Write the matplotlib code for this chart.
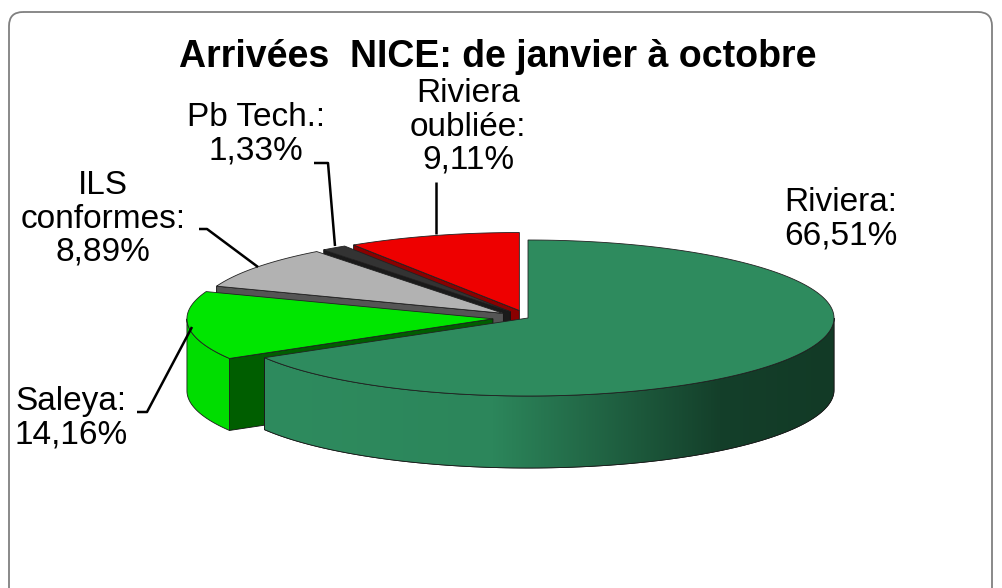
import numpy as np
import matplotlib
matplotlib.use("Agg")
import matplotlib.pyplot as plt
from matplotlib.patches import Polygon, FancyBboxPatch
from matplotlib.colors import LinearSegmentedColormap

plt.rcParams['font.family'] = ['Liberation Sans', 'DejaVu Sans']

# data
names = ['Riviera:', 'Saleya:', 'ILS\nconformes:', 'Pb Tech.:', 'Riviera\noubliée:']
values = [66.51, 14.16, 8.89, 1.33, 9.11]
top_colors = ['#2E8B5E', '#00E600', '#B2B2B2', '#333333', '#EE0000']
wall_colors = ['#2E8B5E', '#00DD00', '#9A9A9A', '#2A2A2A', '#CC0000']
cut_colors = ['#1D5C3D', '#005E00', '#555555', '#1A1A1A', '#8B0000']
explode = [0.0, 0.115, 0.1, 0.1, 0.1]

# label positions (pixels) and leader lines
label_pos = [(841, 219), (71, 418), (103, 219), (256, 134), (468, 127)]
leaders = [None,
           [(137, 412), (147, 412), (192, 327)],
           [(199, 229), (207, 229), (258, 267)],
           [(314, 163), (328, 163), (335, 246)],
           [(436, 182), (436, 234)]]

CX, CY = 528, 318
RX, RY = 306, 78
DEPTH = 72

fig = plt.figure(figsize=(10.02, 5.88), dpi=100)
ax = fig.add_axes([0, 0, 1, 1])
ax.axis('off')


def pt(t, ox, oy, r=1.0, z=0.0):
    t = np.radians(t)
    return CX + ox + RX * r * np.cos(t), CY + oy - RY * r * np.sin(t) + z


# slice angles, clockwise from 12 o'clock
total = sum(values)
slices = []
hi = 90.0
for i, v in enumerate(values):
    lo = hi - v / total * 360
    mid = np.radians((hi + lo) / 2)
    ox = explode[i] * RX * np.cos(mid)
    oy = -explode[i] * RY * np.sin(mid)
    slices.append((i, lo, hi, ox, oy, np.sin(mid)))
    hi = lo

order = sorted(slices, key=lambda s: -s[5])

# sides (walls and cut faces), back to front
for i, lo, hi, ox, oy, _ in order:
    # cut faces facing the viewer
    for edge, visible in ((hi, np.cos(np.radians(hi)) < 0), (lo, np.cos(np.radians(lo)) > 0)):
        if not visible:
            continue
        a = pt(0, ox, oy, r=0)
        b = pt(edge, ox, oy)
        face = [a, b, (b[0], b[1] + DEPTH), (a[0], a[1] + DEPTH)]
        ax.add_patch(Polygon(face, closed=True, fc=cut_colors[i], ec='#111111', lw=0.6))
    # outer wall, front half only
    for k in (-360, 0, 360):
        s0, s1 = max(lo, 180 + k), min(hi, 360 + k)
        if s1 <= s0:
            continue
        ts = np.linspace(s0, s1, 120)
        top = [pt(t, ox, oy) for t in ts]
        bot = [pt(t, ox, oy, z=DEPTH) for t in ts[::-1]]
        wall = Polygon(top + bot, closed=True, fc=wall_colors[i], ec='#1a1a1a', lw=0.6)
        ax.add_patch(wall)
        if i == 0:
            # shaded wall for the big slice
            xs = [p[0] for p in top]
            x0, x1 = min(xs), max(xs)
            cmap = LinearSegmentedColormap.from_list(
                'riv', [(0, '#2E8B5E'), (0.4, '#2C865B'), (0.8, '#143F2A'), (1, '#123A26')])
            grad = np.linspace(0, 1, 256).reshape(1, -1)
            im = ax.imshow(grad, cmap=cmap, extent=(x0, x1, CY + RY + DEPTH + 5, CY - 5),
                           aspect='auto', zorder=wall.get_zorder())
            im.set_clip_path(wall)
            ax.add_patch(Polygon(top + bot, closed=True, fc='none', ec='#1a1a1a', lw=0.6))

# top faces
for i, lo, hi, ox, oy, _ in order:
    ts = np.linspace(lo, hi, 200)
    poly = [pt(0, ox, oy, r=0)] + [pt(t, ox, oy) for t in ts]
    ax.add_patch(Polygon(poly, closed=True, fc=top_colors[i], ec='#222222', lw=0.6, zorder=3))

# labels and leaders
for i, v in enumerate(values):
    txt = names[i] + '\n' + f'{v:.2f}'.replace('.', ',') + '%'
    x, y = label_pos[i]
    ax.text(x, y, txt, ha='center', va='center', fontsize=24, linespacing=1.1,
            color='black', zorder=5)
    if leaders[i]:
        lx, ly = zip(*leaders[i])
        ax.plot(lx, ly, color='black', lw=1.8, zorder=5, solid_capstyle='butt')

ax.text(498, 57, 'Arrivées  NICE: de janvier à octobre', ha='center', va='center',
        fontsize=27, fontweight='bold', color='black')

frame = FancyBboxPatch((9, 12), 983, 700, boxstyle='round,pad=0,rounding_size=14',
                       fc='none', ec='#808080', lw=1.3, zorder=6)
ax.add_patch(frame)

ax.set_xlim(0, 1002)
ax.set_ylim(588, 0)
fig.savefig('out.png', dpi=100, facecolor='white')
